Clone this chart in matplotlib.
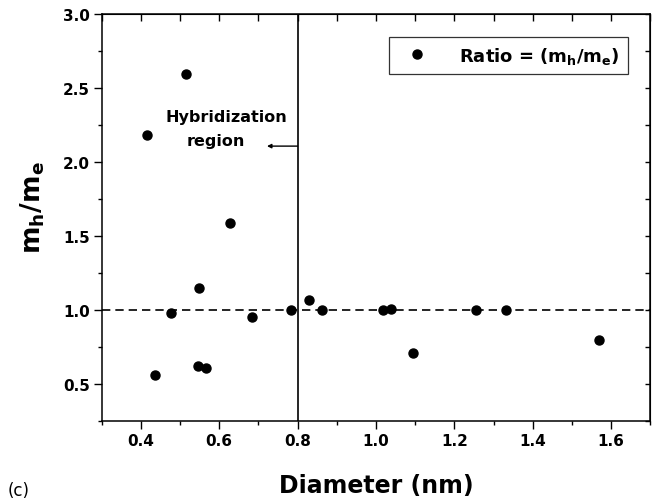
import matplotlib
matplotlib.use("Agg")
import matplotlib.pyplot as plt
import numpy as np

# Data
diameter = [0.415, 0.515, 0.628, 0.549, 0.477, 0.436, 0.547, 0.567, 0.684,
            0.783, 0.829, 0.862, 1.017, 1.038, 1.095, 1.255, 1.331, 1.569]
ratio = [2.184, 2.595, 1.588, 1.147, 0.984, 0.563, 0.624, 0.613, 0.951,
         1.000, 1.072, 1.000, 1.000, 1.011, 0.712, 1.000, 1.000, 0.800]
x_major = [0.4, 0.6, 0.8, 1.0, 1.2, 1.4, 1.6]
y_major = [0.5, 1.0, 1.5, 2.0, 2.5, 3.0]
hyb_boundary = 0.8
ref_ratio = 1.0

plt.rcParams['font.family'] = ['DejaVu Sans']
plt.rcParams['font.weight'] = 'bold'
plt.rcParams['mathtext.fontset'] = 'custom'
plt.rcParams['mathtext.rm'] = 'DejaVu Sans:bold'
plt.rcParams['mathtext.it'] = 'DejaVu Sans:bold'
plt.rcParams['mathtext.bf'] = 'DejaVu Sans:bold'

fig = plt.figure(figsize=(6.61, 5.02), dpi=100)
ax = fig.add_axes([0.1536, 0.1588, 0.8304, 0.8113])

ax.plot(diameter, ratio, 'o', color='black', markersize=6.5, linestyle='none',
        label=r'Ratio = (m$_h$/m$_e$)', zorder=3)
ax.axhline(ref_ratio, color='black', lw=1.2, dashes=(5, 3), zorder=2)
ax.axvline(hyb_boundary, color='black', lw=1.2, zorder=2)

ax.set_xlim(0.3, 1.7)
ax.set_ylim(0.25, 3.0)
ax.set_xticks(x_major)
ax.set_xticks(np.arange(0.3, 1.71, 0.1), minor=True)
ax.set_yticks(y_major)
ax.set_yticks(np.arange(0.25, 3.01, 0.25), minor=True)
ax.set_xticklabels([f'{v:.1f}' for v in x_major], fontsize=11, fontweight='bold')
ax.set_yticklabels([f'{v:.1f}' for v in y_major], fontsize=11, fontweight='bold')
ax.tick_params(axis='both', which='major', direction='out', length=5.5, width=1, pad=3)
ax.tick_params(axis='both', which='minor', direction='out', length=3, width=1)

for s in ax.spines.values():
    s.set_linewidth(1.1)

# top / right inward ticks
secx = ax.secondary_xaxis('top')
secx.set_xticks(np.arange(0.3, 1.71, 0.1))
secx.tick_params(direction='in', length=5, width=1, labeltop=False)
secx.set_xticklabels([])
secy = ax.secondary_yaxis('right')
secy.set_yticks(np.arange(0.25, 3.01, 0.25))
secy.tick_params(direction='in', length=3.5, width=1, labelright=False)
secy.set_yticklabels([])

ax.set_xlabel('Diameter (nm)', fontsize=17, fontweight='bold')
ax.xaxis.set_label_coords(0.5, -0.128)
ax.set_ylabel(r'm$_h$/m$_e$', fontsize=19, fontweight='bold')
ax.yaxis.set_label_coords(-0.10, 0.527)

# annotation
ax.text(0.618, 2.311, 'Hybridization', ha='center', va='center', fontsize=11.5, fontweight='bold')
ax.text(0.592, 2.149, 'region', ha='center', va='center', fontsize=11.5, fontweight='bold')
ax.annotate('', xy=(0.722, 2.108), xytext=(hyb_boundary, 2.108),
            arrowprops=dict(arrowstyle='-|>', color='black', lw=1,
                            mutation_scale=6, shrinkA=0, shrinkB=0))

leg = ax.legend(loc='upper right', frameon=True, fancybox=False,
                edgecolor='black', borderaxespad=1.25, handletextpad=1.25,
                borderpad=0.45, handlelength=2.2,
                prop={'weight': 'bold', 'size': 13})
leg.get_frame().set_linewidth(0.9)

fig.text(0.012, 0.021, '(c)', ha='left', va='center', fontsize=12, fontweight='normal')

fig.savefig('out.png', dpi=100)
